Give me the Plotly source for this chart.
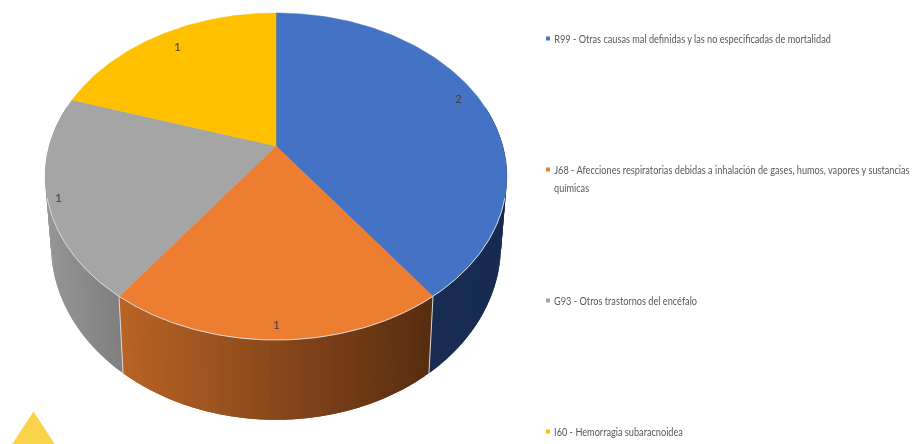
import numpy as np
import plotly.graph_objects as go

# Data
categories = ["R99", "J68", "G93", "I60"]
values = [2, 1, 1, 1]
legend_lines = [
    ["R99 - Otras causas mal definidas y las no especificadas de mortalidad"],
    ["J68 - Afecciones respiratorias debidas a inhalación de gases, humos, vapores y sustancias", "químicas"],
    ["G93 - Otros trastornos del encéfalo"],
    ["I60 - Hemorragia subaracnoidea"],
]
top_colors = ["#4472C4", "#ED7D31", "#A5A5A5", "#FFC000"]
side_left = ["#1A2F58", "#BA6426", "#969696", "#997300"]
side_right = ["#172B50", "#582D10", "#808080", "#997300"]
legend_y = [39, 170, 301, 432]
label_pos = [(458, 99), (276, 325), (58, 198), (177, 47)]

W, H = 913, 444
CX = 276
TOP = dict(A=226.8, a=-130.6, b=146.0, k=0.1865)
BOT = dict(A=221.0, a=-129.0, b=212.5, k=0.1865)
FONT = "Lato, sans-serif"


def project(theta, p):
    u, v = np.sin(theta), np.cos(theta)
    d = 1 + p["k"] * v
    return CX + p["A"] * u / d, (p["a"] * v + p["b"]) / d


def mix(c1, c2, t):
    t = float(np.clip(t, 0, 1))
    r1 = [int(c1[i:i + 2], 16) for i in (1, 3, 5)]
    r2 = [int(c2[i:i + 2], 16) for i in (1, 3, 5)]
    return "rgb(%d,%d,%d)" % tuple(round(a + (b - a) * t) for a, b in zip(r1, r2))


total = sum(values)
edges = np.concatenate([[0], np.cumsum(values)]) / total * 2 * np.pi
fig = go.Figure()
VIS0, VIS1 = np.radians(75), np.radians(285)
SEAM = "#D9D9D9"

# side wall: overlapping narrow strips, painted in order, so the shading runs smoothly
for i in range(len(values)):
    lo, hi = max(edges[i], VIS0), min(edges[i + 1], VIS1)
    if hi <= lo:
        continue
    n = max(2, int(np.degrees(hi - lo) / 1.2))
    th = np.linspace(lo, hi, n + 1)
    xa = project(edges[i], TOP)[0]
    xb = project(edges[i + 1], TOP)[0]
    xmin, xmax = min(xa, xb), max(xa, xb)
    if i == 0:
        xmax = CX + 231
    if i == 2:
        xmin = CX - 231
    for j in range(n):
        t = np.linspace(th[j], th[min(j + 2, n)], 4)
        xt, yt = project(t, TOP)
        xb2, yb2 = project(t, BOT)
        xm = project(th[j], TOP)[0]
        c = mix(side_left[i], side_right[i], (xm - xmin) / (xmax - xmin))
        fig.add_trace(go.Scatter(
            x=np.r_[xt, xb2[::-1], xt[0]],
            y=np.r_[yt, yb2[::-1], yt[0]],
            mode="none", fill="toself", fillcolor=c,
            hoverinfo="skip", showlegend=False))

# seams between slices on the wall
for e in edges[1:3]:
    xt, yt = project(e, TOP)
    xb2, yb2 = project(e, BOT)
    fig.add_trace(go.Scatter(x=[xt, xb2], y=[yt, yb2], mode="lines",
                             line=dict(color=SEAM, width=1), hoverinfo="skip", showlegend=False))

# top face
ax, ay = CX, TOP["b"]
for i, name in enumerate(categories):
    th = np.linspace(edges[i], edges[i + 1], 140)
    x, y = project(th, TOP)
    fig.add_trace(go.Scatter(
        x=np.r_[ax, x, ax], y=np.r_[ay, y, ay], mode="lines", fill="toself",
        fillcolor=top_colors[i], line=dict(color=top_colors[i], width=0.5),
        name=name, showlegend=False, hoverinfo="skip"))

# light rim on the front of the top face
th = np.linspace(np.radians(108), np.radians(252), 300)
x, y = project(th, TOP)
fig.add_trace(go.Scatter(x=x, y=y, mode="lines", line=dict(color=SEAM, width=1),
                         hoverinfo="skip", showlegend=False))

# data labels
for v, (lx, ly) in zip(values, label_pos):
    fig.add_annotation(x=lx, y=ly - 1, text=str(v), showarrow=False,
                       font=dict(family=FONT, size=12, color="#404040"))

# legend
for i, lines in enumerate(legend_lines):
    fig.add_trace(go.Scatter(x=[548], y=[legend_y[i] - 0.5], mode="markers",
                             marker=dict(symbol="square", size=4, color=top_colors[i]),
                             hoverinfo="skip", showlegend=False))
    for k, line in enumerate(lines):
        fig.add_annotation(x=551.5, y=legend_y[i] - 0.5 + 17.5 * k, text=line, showarrow=False,
                           xanchor="left", yanchor="middle",
                           font=dict(family=FONT, size=12, color="#595959"))

fig.update_layout(
    width=W, height=H, autosize=False, margin=dict(l=0, r=0, t=0, b=0),
    paper_bgcolor="white", plot_bgcolor="white",
    xaxis=dict(range=[0, W], visible=False, fixedrange=True),
    yaxis=dict(range=[H, 0], visible=False, fixedrange=True),
    shapes=[dict(type="path", path="M 33.5 411.5 L 11 446 L 56 446 Z", xref="x", yref="y",
                 fillcolor="#F9D44A", line=dict(width=0), layer="below")],
)

# the reference's legend type is narrower than any installed face: squeeze it horizontally
post = """
document.body.style.margin='0';
document.body.style.overflow='hidden';
document.body.style.filter='blur(0.35px)';
var squeeze=function(){
  var ts=[].slice.call(document.querySelectorAll('text.annotation-text')).filter(function(t){return t.textContent.length>1;});
  if(!ts.length){return;}
  var first=ts.filter(function(t){return t.textContent.indexOf('R99')===0;})[0];
  var s=277/first.getBoundingClientRect().width;
  ts.forEach(function(t){
    var b=t.getBBox();
    t.setAttribute('transform','translate('+(b.x*(1-s))+',0) scale('+s+',1)');
  });
};
squeeze();
"""
fig.write_html("out.html", config={"displayModeBar": False}, post_script=post)
